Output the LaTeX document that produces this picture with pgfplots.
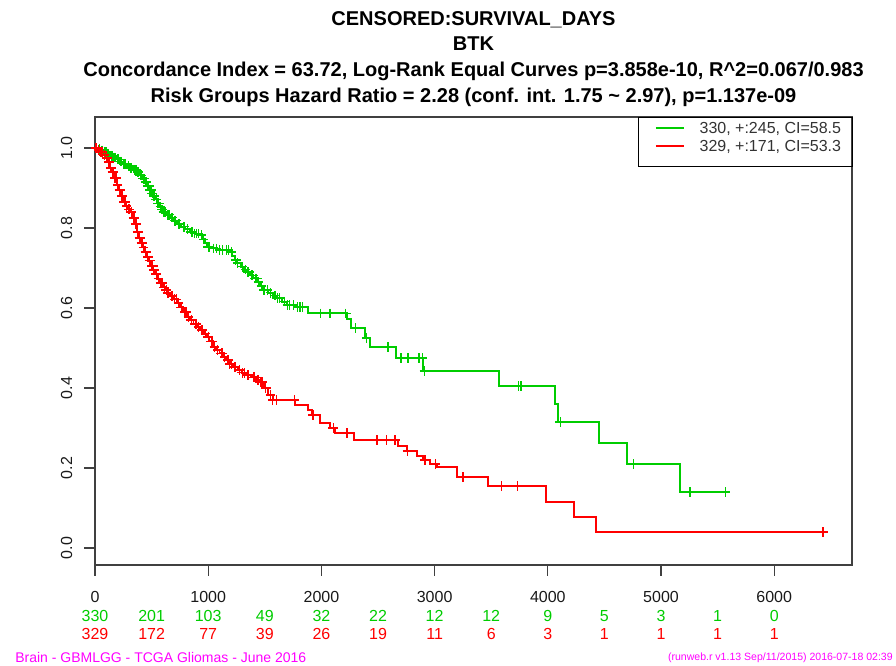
\documentclass[border=0pt]{standalone}
\usepackage{pgfplots}
\pgfplotsset{compat=1.18}
\usepackage{pgfplotstable}
\usepackage{fontspec}
\setmainfont{Liberation Sans}
\definecolor{kmgreen}{RGB}{0,205,0}
\definecolor{kmred}{RGB}{255,0,0}
\definecolor{foot}{RGB}{255,0,255}

\pgfplotstableread{
t S
0 1
25 0.997
50 0.994
80 0.99
110 0.985
132 0.98
160 0.976
190 0.972
220 0.966
247 0.96
280 0.955
310 0.95
340 0.945
371 0.94
395 0.932
420 0.923
442 0.915
460 0.905
480 0.895
500 0.886
512 0.88
530 0.872
550 0.862
570 0.853
585 0.846
600 0.84
630 0.833
660 0.826
690 0.818
724 0.81
760 0.803
800 0.797
839 0.79
880 0.786
928 0.7825
950 0.772
970 0.762
989 0.7525
1030 0.749
1078 0.745
1193 0.74
1215 0.73
1235 0.72
1254 0.7125
1290 0.703
1320 0.696
1343 0.69
1370 0.682
1400 0.674
1431 0.665
1460 0.655
1484 0.645
1530 0.638
1570 0.631
1608 0.625
1650 0.616
1696 0.6075
1784 0.6025
1882 0.5867
2226 0.572
2260 0.55
2385 0.525
2430 0.5025
2659 0.475
2898 0.4425
3569 0.405
4064 0.36
4090 0.315
4452 0.2625
4700 0.21
5168 0.14
5570 0.14
}\greencurve

\pgfplotstableread{
t S
8 1
15 1
40 0.997
55 0.994
65 0.994
85 0.99
95 0.99
100 0.99
115 0.985
120 0.985
145 0.98
150 0.98
165 0.976
175 0.976
182 0.976
200 0.972
210 0.972
228 0.966
235 0.966
255 0.96
262 0.96
270 0.96
295 0.955
300 0.955
315 0.95
325 0.95
345 0.945
355 0.945
365 0.945
378 0.94
385 0.94
400 0.932
407 0.932
412 0.932
425 0.923
430 0.923
436 0.923
450 0.915
455 0.915
465 0.905
470 0.905
475 0.905
485 0.895
490 0.895
495 0.895
505 0.886
520 0.88
525 0.88
540 0.872
545 0.872
555 0.862
560 0.862
565 0.862
578 0.853
592 0.846
605 0.84
615 0.84
620 0.84
645 0.833
655 0.833
675 0.826
685 0.826
705 0.818
715 0.818
740 0.81
750 0.81
780 0.803
790 0.803
820 0.797
850 0.79
860 0.79
880 0.786
900 0.786
915 0.786
940 0.7825
960 0.772
1000 0.7525
1010 0.7525
1050 0.749
1070 0.749
1100 0.745
1130 0.745
1160 0.745
1180 0.745
1205 0.74
1245 0.72
1260 0.7125
1300 0.703
1330 0.696
1350 0.69
1360 0.69
1385 0.682
1395 0.682
1415 0.674
1430 0.674
1445 0.665
1470 0.655
1490 0.645
1500 0.645
1520 0.645
1550 0.638
1590 0.631
1610 0.625
1630 0.625
1670 0.616
1700 0.6075
1720 0.6075
1750 0.6075
1790 0.6025
1811 0.6025
1830 0.6025
1988 0.5867
2076 0.5867
2215 0.5867
2300 0.55
2400 0.525
2588 0.5025
2703 0.475
2765 0.475
2862 0.475
2889 0.475
2910 0.4425
3737 0.405
3763 0.405
4110 0.315
4753 0.21
5256 0.14
5570 0.14
}\greencens

\pgfplotstableread{
t S
0 1
20 0.995
40 0.99
71 0.9825
90 0.975
110 0.965
133 0.95
150 0.94
170 0.925
194 0.9075
210 0.895
230 0.88
247 0.865
270 0.855
290 0.847
309 0.84
330 0.825
350 0.81
371 0.79
385 0.775
398 0.7625
420 0.752
440 0.74
459 0.7275
475 0.718
495 0.705
512 0.695
530 0.685
550 0.673
574 0.6625
600 0.652
620 0.645
636 0.6375
660 0.63
690 0.622
724 0.6125
750 0.602
780 0.59
813 0.5775
840 0.57
870 0.56
901 0.5525
930 0.545
960 0.536
989 0.5275
1010 0.517
1042 0.5025
1070 0.495
1100 0.487
1131 0.4775
1160 0.47
1190 0.46
1219 0.4525
1260 0.445
1300 0.438
1343 0.4325
1380 0.427
1420 0.42
1458 0.415
1490 0.4
1528 0.3825
1572 0.37
1767 0.3575
1882 0.345
1917 0.3325
1988 0.3125
2076 0.30
2120 0.2875
2288 0.27
2677 0.255
2756 0.2425
2845 0.23
2898 0.22
2960 0.21
3021 0.2025
3198 0.1775
3472 0.155
3984 0.115
4231 0.0775
4426 0.04
6431 0.04
}\redcurve

\pgfplotstableread{
t S
8 1
15 1
30 0.995
45 0.99
55 0.99
62 0.99
80 0.9825
100 0.975
105 0.975
120 0.965
125 0.965
140 0.95
155 0.94
160 0.94
175 0.925
180 0.925
190 0.925
200 0.9075
215 0.895
220 0.895
235 0.88
240 0.88
258 0.865
265 0.865
280 0.855
300 0.847
305 0.847
320 0.84
340 0.825
345 0.825
360 0.81
365 0.81
378 0.79
392 0.775
395 0.775
410 0.7625
415 0.7625
430 0.752
445 0.74
450 0.74
467 0.7275
480 0.718
485 0.718
503 0.705
510 0.705
520 0.695
540 0.685
545 0.685
560 0.673
580 0.6625
587 0.6625
595 0.6625
610 0.652
628 0.645
640 0.6375
648 0.6375
675 0.63
685 0.63
705 0.622
720 0.622
737 0.6125
760 0.602
765 0.602
795 0.59
810 0.59
826 0.5775
850 0.57
855 0.57
885 0.56
895 0.56
915 0.5525
945 0.545
950 0.545
975 0.536
1000 0.5275
1025 0.517
1035 0.517
1055 0.5025
1085 0.495
1115 0.487
1125 0.487
1145 0.4775
1175 0.47
1190 0.46
1205 0.46
1230 0.4525
1240 0.4525
1280 0.445
1300 0.438
1320 0.438
1350 0.4325
1360 0.4325
1400 0.427
1413 0.427
1440 0.42
1460 0.415
1475 0.415
1510 0.4
1550 0.3825
1572 0.37
1600 0.37
1760 0.37
1926 0.3325
2103 0.30
2226 0.2875
2491 0.27
2571 0.27
2650 0.27
2760 0.2425
2915 0.22
3004 0.21
3251 0.1775
3590 0.155
3735 0.155
6431 0.04
}\redcens

\begin{document}
\begin{tikzpicture}
\path[use as bounding box] (-71.25pt,-75pt) rectangle (600.75pt,423.75pt);
\begin{axis}[
  at={(0,0)}, anchor=south west,
  scale only axis, width=567.75pt, height=336pt,
  xmin=0, xmax=6687, ymin=-0.0425, ymax=1.0775,
  xtick={0,1000,2000,3000,4000,5000,6000},
  xticklabels={0,1000,2000,3000,4000,5000,6000},
  ytick={0,0.2,0.4,0.6,0.8,1.0},
  yticklabels={0.0,0.2,0.4,0.6,0.8,1.0},
  xtick pos=bottom, ytick pos=left,
  tick align=outside, major tick length=8pt,
  axis line style={black!75, line width=0.9pt},
  tick style={black!75, line width=0.9pt},
  tick label style={font=\fontsize{12}{12}\selectfont, black!90},
  xticklabel style={anchor=north, yshift=-8pt},
  yticklabel style={rotate=90, anchor=south},
  yticklabel shift=5.5pt,
  legend style={at={(0.7398,0.9913)}, anchor=north west, draw=none, fill=none,
    inner sep=0pt, outer sep=0pt,
    font=\fontsize{12}{14}\selectfont, text=black!80,
    nodes={inner sep=0pt, text height=9.6pt, text depth=1pt},
    column sep=11.25pt, row sep=2.9pt},
  legend cell align=left,
  legend image code/.code={\draw[#1, line width=1.2pt] (0pt,0pt) -- (21pt,0pt);},
]
\addplot[const plot, color=kmgreen, line width=1.4pt] table[x=t, y=S] {\greencurve};
\addlegendentry{330, +:245, CI=58.5}
\addplot[const plot, color=kmred, line width=1.4pt] table[x=t, y=S] {\redcurve};
\addlegendentry{329, +:171, CI=53.3}
\addplot[only marks, mark=+, mark size=3.6pt, color=kmgreen, mark options={line width=0.8pt}, forget plot] table[x=t, y=S] {\greencens};
\addplot[only marks, mark=+, mark size=3.6pt, color=kmred, mark options={line width=0.8pt}, forget plot] table[x=t, y=S] {\redcens};
\end{axis}
% legend frame
\draw[black, line width=0.7pt] (407.25pt,299.25pt) rectangle (567.75pt,336pt);
% titles
\begin{scope}[every node/.style={anchor=base, inner sep=0pt, font=\bfseries\fontsize{15}{15}\selectfont}]
\node at (283.9pt,404.25pt) {CENSORED:SURVIVAL\_DAYS};
\node at (283.9pt,385.5pt) {BTK};
\node at (283.9pt,366pt) {Concordance Index = 63.72, Log-Rank Equal Curves p=3.858e-10, R\textasciicircum 2=0.067/0.983};
\node at (283.9pt,346.5pt) {Risk Groups Hazard Ratio = 2.28 (conf. int. 1.75 \textasciitilde{} 2.97), p=1.137e-09};
\end{scope}
% numbers at risk
\begin{scope}[every node/.style={anchor=center, inner sep=0pt, font=\fontsize{12}{12}\selectfont}]
\foreach \n [count=\k from 0] in {330,201,103,49,32,22,12,12,9,5,3,1,0}
  \node[text=kmgreen] at (42.45pt*\k,-38.25pt) {\n};
\foreach \n [count=\k from 0] in {329,172,77,39,26,19,11,6,3,1,1,1,1}
  \node[text=kmred] at (42.45pt*\k,-51.75pt) {\n};
\end{scope}
\node[anchor=west, inner sep=0pt, text=foot, font=\fontsize{10.5}{10.5}\selectfont] at (-60pt,-69pt) {Brain - GBMLGG - TCGA Gliomas - June 2016};
\node[anchor=east, inner sep=0pt, text=foot, font=\fontsize{7.9}{7.9}\selectfont] at (598.5pt,-69.75pt) {(runweb.r v1.13 Sep/11/2015) 2016-07-18 02:39};
\end{tikzpicture}
\end{document}
